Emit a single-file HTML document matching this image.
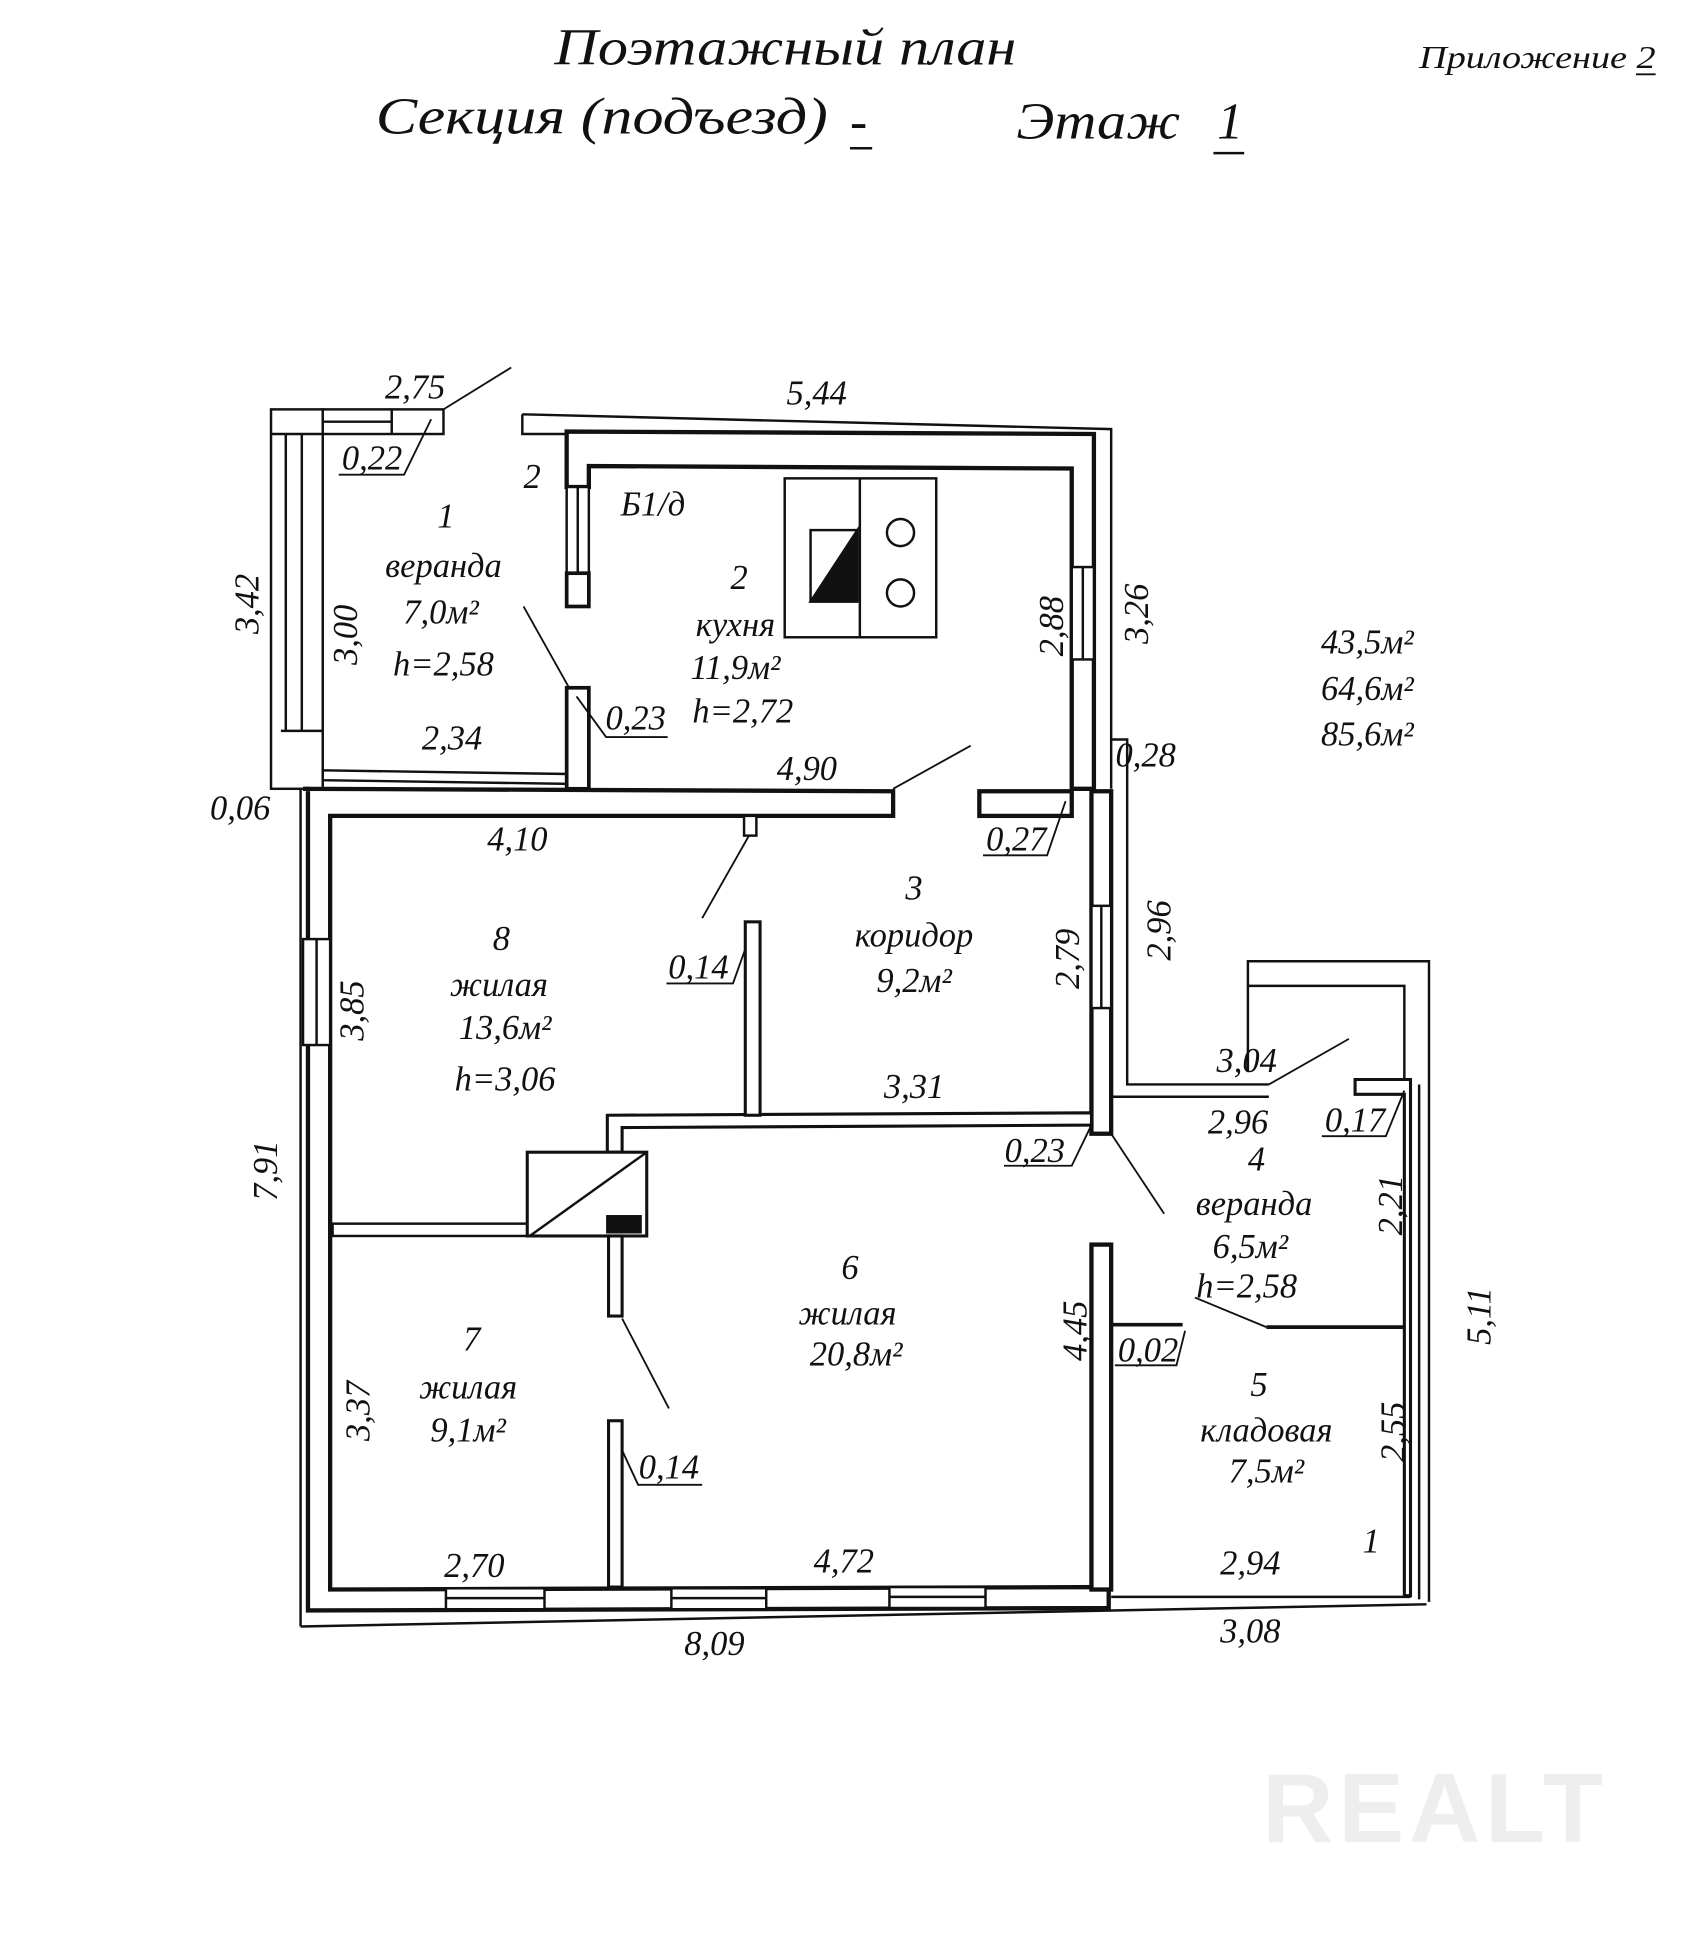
<!DOCTYPE html>
<html><head><meta charset="utf-8"><style>
html,body{margin:0;padding:0;background:#fff;}
svg{display:block;}
text{font-family:"Liberation Serif",serif;font-style:italic;fill:#111;}
</style></head><body>
<svg width="1700" height="1941" viewBox="0 0 1380 1575" xmlns="http://www.w3.org/2000/svg">
<rect width="1380" height="1575" fill="#fff"/>
<!-- titles -->
<text x="450" y="52" font-size="42" textLength="375" lengthAdjust="spacingAndGlyphs">Поэтажный план</text>
<text x="305" y="108" font-size="42" textLength="367" lengthAdjust="spacingAndGlyphs">Секция (подъезд)</text>
<text x="690" y="112" font-size="42">-</text>
<line x1="690" y1="120" x2="708" y2="120" stroke="#111" stroke-width="2"/>
<text x="825" y="112" font-size="42" textLength="133" lengthAdjust="spacingAndGlyphs">Этаж</text>
<text x="988" y="112" font-size="42">1</text>
<line x1="985" y1="124" x2="1010" y2="124" stroke="#111" stroke-width="2"/>
<text x="1152" y="55" font-size="26" textLength="192" lengthAdjust="spacingAndGlyphs">Приложение 2</text>
<line x1="1328" y1="60" x2="1344" y2="60" stroke="#111" stroke-width="1.5"/>

<g fill="#fff" stroke="#111" stroke-width="2">
<!-- veranda 1 -->
<rect x="220" y="332" width="42" height="308"/>
<line x1="232" y1="352" x2="232" y2="593"/><line x1="245" y1="352" x2="245" y2="593"/>
<line x1="220" y1="352" x2="262" y2="352"/><line x1="228" y1="593" x2="262" y2="593"/>
<rect x="262" y="332" width="98" height="20"/>
<line x1="262" y1="342" x2="318" y2="342"/><line x1="318" y1="332" x2="318" y2="352"/>
<polygon points="262,625 462,628 462,636 262,633"/>
<rect x="460" y="558" width="18" height="82" stroke-width="3"/>
<!-- kitchen -->
<polyline points="424,336 902,348 902,640" fill="none"/>
<polyline points="424,336 424,352 460,352" fill="none"/>
<polygon points="460,350 888,352 888,640 870,640 870,380 478,378 478,395 460,395" stroke-width="3.5"/>
<rect x="870" y="460" width="18" height="75" stroke-width="2"/>
<line x1="879" y1="460" x2="879" y2="535"/>
<rect x="460" y="395" width="18" height="70"/><line x1="469" y1="395" x2="469" y2="465"/>
<rect x="460" y="465" width="18" height="27" stroke-width="3"/>
<!-- main left + top -->
<line x1="244" y1="640" x2="244" y2="1320"/>
<polyline points="244,1320 1158,1302" fill="none"/>
<polygon points="246,640 725,642 725,662 268,662 268,1290 900,1288 900,1305 250,1307 250,640" stroke-width="3.5"/>
<rect x="246" y="762" width="22" height="86" stroke-width="2"/><line x1="257" y1="762" x2="257" y2="848"/>
<rect x="362" y="1289" width="80" height="17" stroke-width="2"/><line x1="362" y1="1297" x2="442" y2="1297"/>
<rect x="545" y="1289" width="77" height="17" stroke-width="2"/><line x1="545" y1="1297" x2="622" y2="1297"/>
<rect x="722" y="1288" width="78" height="17" stroke-width="2"/><line x1="722" y1="1296" x2="800" y2="1296"/>
<!-- corridor right wall -->
<rect x="886" y="642" width="16" height="278" stroke-width="3.5"/>
<rect x="886" y="735" width="16" height="83" stroke-width="2"/><line x1="894" y1="735" x2="894" y2="818"/>
<polyline points="902,600 915,600 915,880 1030,880" fill="none"/>
<line x1="902" y1="890" x2="1030" y2="890"/>
<rect x="795" y="642" width="75" height="20" stroke-width="3.5"/>
<!-- interior -->
<polygon points="493,905 886,903 886,913 505,915 505,935 493,935" stroke-width="2.5"/>
<rect x="605" y="748" width="12" height="157" stroke-width="2.5"/>
<rect x="604" y="662" width="10" height="16"/>
<rect x="270" y="993" width="158" height="10" stroke-width="2"/>
<rect x="428" y="935" width="97" height="68" stroke-width="2.5"/>
<line x1="430" y1="1003" x2="525" y2="935"/>
<rect x="493" y="987" width="27" height="13" fill="#111"/>
<rect x="494" y="1003" width="11" height="65" stroke-width="2.5"/>
<rect x="494" y="1153" width="11" height="135" stroke-width="2.5"/>
<rect x="886" y="1010" width="16" height="280" stroke-width="3.5"/>
<line x1="902" y1="1075" x2="960" y2="1075" stroke-width="3"/>
<line x1="1028" y1="1077" x2="1145" y2="1077" stroke-width="3"/>
<!-- right annex -->
<polyline points="1013,870 1013,780 1160,780 1160,1300" fill="none"/>
<polyline points="1013,800 1140,800 1140,880" fill="none"/>
<polygon points="1100,876 1145,876 1145,1295 1140,1295 1140,888 1100,888" stroke-width="2.5"/>
<line x1="1152" y1="880" x2="1152" y2="1298"/>
<line x1="902" y1="1296" x2="1145" y2="1296"/>
</g>
<!-- kitchen stove -->
<g stroke="#111" stroke-width="2" fill="#fff">
<rect x="637" y="388" width="123" height="129"/>
<line x1="698" y1="388" x2="698" y2="517"/>
<rect x="658" y="430" width="38" height="58"/>
<polygon points="658,488 696,430 696,488" fill="#111"/>
<circle cx="731" cy="432" r="11"/><circle cx="731" cy="481" r="11"/>
</g>
<!-- leader lines -->
<g stroke="#111" stroke-width="1.5" fill="none">
<line x1="360" y1="332" x2="415" y2="298"/>
<polyline points="350,340 328,385 275,385"/>
<polyline points="425,492 462,558"/><polyline points="468,565 492,598 542,598"/>
<line x1="725" y1="640" x2="788" y2="605"/>
<polyline points="865,650 850,694 798,694"/>
<line x1="570" y1="745" x2="608" y2="678"/>
<polyline points="605,770 595,798 541,798"/>
<line x1="1030" y1="880" x2="1095" y2="843"/>
<polyline points="1140,885 1125,922 1073,922"/>
<polyline points="885,915 870,946 815,946"/>
<line x1="902" y1="920" x2="945" y2="985"/>
<polyline points="970,1053 1028,1077"/>
<polyline points="962,1080 955,1108 905,1108"/>
<line x1="505" y1="1070" x2="543" y2="1143"/>
<polyline points="505,1177 518,1205 570,1205"/>
</g>
<!-- labels -->
<g font-size="28" text-anchor="middle">
<text x="337" y="323">2,75</text>
<text x="302" y="381">0,22</text>
<text x="432" y="396">2</text>
<text x="530" y="418">Б1/д</text>
<text x="362" y="428">1</text>
<text x="360" y="468">веранда</text>
<text x="358" y="506">7,0м²</text>
<text x="360" y="548">h=2,58</text>
<text x="367" y="608">2,34</text>
<text x="516" y="592">0,23</text>
<text x="663" y="328">5,44</text>
<text x="600" y="478">2</text>
<text x="597" y="516">кухня</text>
<text x="597" y="551">11,9м²</text>
<text x="603" y="586">h=2,72</text>
<text x="930" y="622">0,28</text>
<text x="655" y="633">4,90</text>
<text x="1110" y="530">43,5м²</text>
<text x="1110" y="568">64,6м²</text>
<text x="1110" y="605">85,6м²</text>
<text x="195" y="665">0,06</text>
<text x="420" y="690">4,10</text>
<text x="825" y="690">0,27</text>
<text x="742" y="730">3</text>
<text x="742" y="768">коридор</text>
<text x="742" y="805">9,2м²</text>
<text x="407" y="771">8</text>
<text x="405" y="808">жилая</text>
<text x="410" y="843">13,6м²</text>
<text x="410" y="885">h=3,06</text>
<text x="567" y="794">0,14</text>
<text x="742" y="891">3,31</text>
<text x="1012" y="870">3,04</text>
<text x="1005" y="920">2,96</text>
<text x="1100" y="918">0,17</text>
<text x="840" y="943">0,23</text>
<text x="1020" y="950">4</text>
<text x="1018" y="986">веранда</text>
<text x="1015" y="1021">6,5м²</text>
<text x="1012" y="1053">h=2,58</text>
<text x="690" y="1038">6</text>
<text x="688" y="1075">жилая</text>
<text x="695" y="1108">20,8м²</text>
<text x="932" y="1105">0,02</text>
<text x="383" y="1096">7</text>
<text x="380" y="1135">жилая</text>
<text x="380" y="1170">9,1м²</text>
<text x="543" y="1200">0,14</text>
<text x="1022" y="1133">5</text>
<text x="1028" y="1170">кладовая</text>
<text x="1028" y="1203">7,5м²</text>
<text x="1113" y="1260">1</text>
<text x="385" y="1280">2,70</text>
<text x="685" y="1276">4,72</text>
<text x="1015" y="1278">2,94</text>
<text x="580" y="1343">8,09</text>
<text x="1015" y="1333">3,08</text>
</g>
<!-- rotated labels -->
<g font-size="28" text-anchor="middle">
<text transform="translate(210,490) rotate(-90)">3,42</text>
<text transform="translate(290,515) rotate(-90)">3,00</text>
<text transform="translate(863,508) rotate(-90)">2,88</text>
<text transform="translate(932,498) rotate(-90)">3,26</text>
<text transform="translate(876,778) rotate(-90)">2,79</text>
<text transform="translate(950,755) rotate(-90)">2,96</text>
<text transform="translate(295,820) rotate(-90)">3,85</text>
<text transform="translate(225,950) rotate(-90)">7,91</text>
<text transform="translate(1138,978) rotate(-90)">2,21</text>
<text transform="translate(1210,1068) rotate(-90)">5,11</text>
<text transform="translate(882,1080) rotate(-90)">4,45</text>
<text transform="translate(300,1145) rotate(-90)">3,37</text>
<text transform="translate(1140,1162) rotate(-90)">2,55</text>
</g>
<text x="1165" y="1495" font-size="80" text-anchor="middle" style="font-style:normal;font-family:'Liberation Sans',sans-serif;font-weight:bold;fill:#eeeeee;letter-spacing:4px">REALT</text>
</svg>
</body></html>
